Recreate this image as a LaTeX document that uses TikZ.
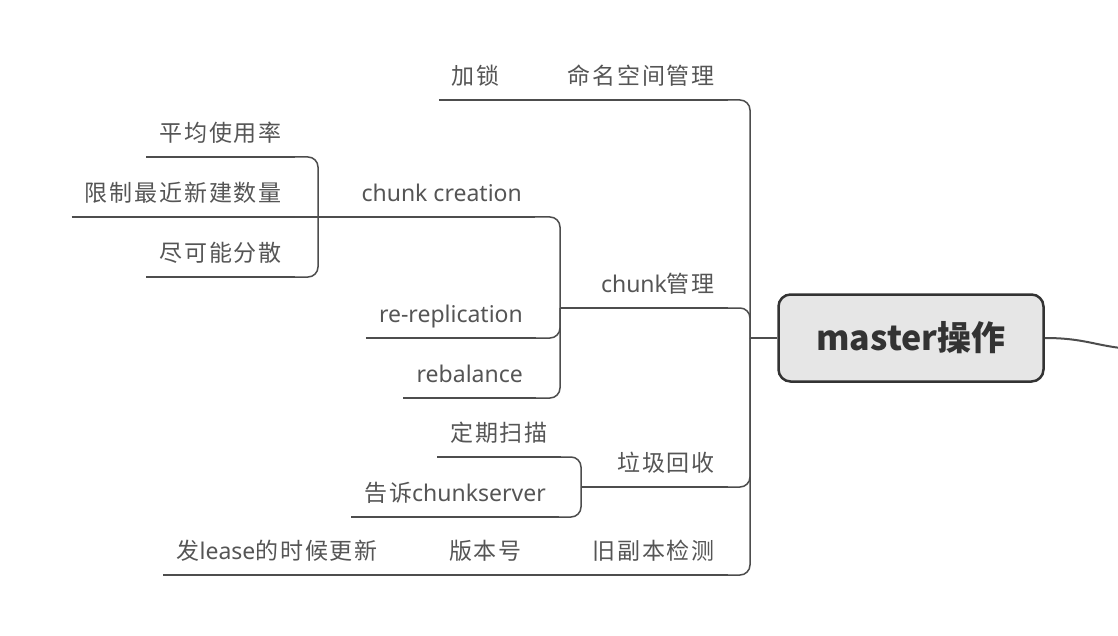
\documentclass[tikz,border=0pt]{standalone}
\usepackage{fontspec}
\setmainfont{Noto Sans}
\newfontfamily\cjk[LetterSpace=8]{Noto Sans CJK SC}
\newfontfamily\rootfont{Noto Sans CJK SC}
\definecolor{linegray}{HTML}{4D4D4D}
\definecolor{textgray}{HTML}{555555}
\definecolor{rootfill}{HTML}{E6E6E6}
\tikzset{
  topic/.style={anchor=south east, inner xsep=13pt, inner ysep=10pt, text depth=5pt,
    text=textgray, font=\fontsize{23pt}{26pt}\selectfont},
  link/.style={draw=linegray, line width=1.5pt},
  bendlink/.style={link, rounded corners=10pt},
  root/.style={draw=black!80, line width=2.5pt, fill=rootfill, rounded corners=12pt,
    minimum width=265pt, minimum height=87pt, text=black!80,
    font=\rootfont\fontsize{34pt}{40pt}\selectfont\bfseries}
}
\begin{document}
\begin{tikzpicture}[x=1pt,y=-1pt]
\useasboundingbox (0,0) rectangle (1118,636);
% root
\node[root] (root) at (911,338) {master操作};
\coordinate (j0) at (750,338);
\coordinate (out) at (1130,349);
% first level
\node[topic] (ns) at (728,100) {\cjk 命名空间管理};
\node[topic] (chunkmgr) at (728,308) {chunk{\cjk 管理}};
\node[topic] (gc) at (728,487) {\cjk 垃圾回收};
\node[topic] (stale) at (728,575) {\cjk 旧副本检测};
% second level
\node[topic] (lock) at (513,100) {\cjk 加锁};
\node[topic] (creation) at (535,217) {chunk creation};
\node[topic] (rerep) at (536,338) {re-replication};
\node[topic] (rebal) at (536,398) {rebalance};
\node[topic] (scan) at (561,457) {\cjk 定期扫描};
\node[topic] (notify) at (559,517) {{\cjk 告诉}chunkserver};
\node[topic] (version) at (535,575) {\cjk 版本号};
% third level
\node[topic] (avg) at (295,157) {\cjk 平均使用率};
\node[topic] (limit) at (295,217) {\cjk 限制最近新建数量};
\node[topic] (spread) at (295,277) {\cjk 尽可能分散};
\node[topic] (lease) at (391,575) {{\cjk 发}lease{\cjk 的时候更新}};
% joints
\coordinate (jchunk) at (560,308);
\coordinate (jcreate) at (318,217);
\coordinate (jgc) at (581,487);

% underlines
\foreach \n in {ns,chunkmgr,gc,stale,lock,creation,rerep,rebal,scan,notify,version,avg,limit,spread,lease}
  \draw[link] (\n.south west) -- (\n.south east);

% connectors
\draw[link] (root.west) -- (j0);
\draw[link, line width=2pt] (root.east) .. controls (1085,338) and (1095,346) .. (out);
\draw[bendlink] (j0) |- (ns.south east);
\draw[bendlink] (j0) |- (chunkmgr.south east);
\draw[bendlink] (j0) |- (gc.south east);
\draw[bendlink] (j0) |- (stale.south east);
\draw[link] (ns.south west) -- (lock.south east);
\draw[link] (chunkmgr.south west) -- (jchunk);
\draw[bendlink] (jchunk) |- (creation.south east);
\draw[bendlink] (jchunk) |- (rerep.south east);
\draw[bendlink] (jchunk) |- (rebal.south east);
\draw[link] (creation.south west) -- (jcreate);
\draw[bendlink] (jcreate) |- (avg.south east);
\draw[link] (jcreate) -- (limit.south east);
\draw[bendlink] (jcreate) |- (spread.south east);
\draw[link] (gc.south west) -- (jgc);
\draw[bendlink] (jgc) |- (scan.south east);
\draw[bendlink] (jgc) |- (notify.south east);
\draw[link] (stale.south west) -- (version.south east);
\draw[link] (version.south west) -- (lease.south east);
\end{tikzpicture}
\end{document}
